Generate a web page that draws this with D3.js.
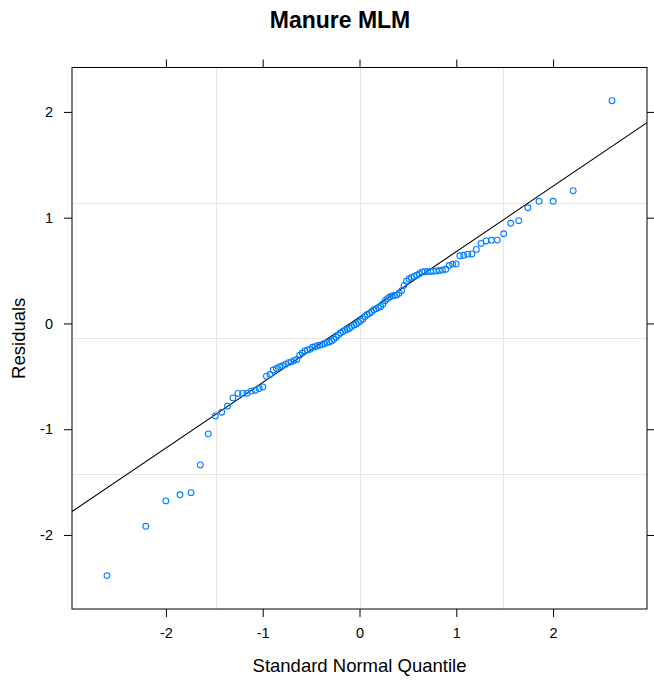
<!DOCTYPE html>
<html>
<head>
<meta charset="utf-8">
<script src="https://cdn.jsdelivr.net/npm/d3@7"></script>
<style>
  html, body { margin: 0; padding: 0; background: #fff; }
  svg { display: block; font-family: "Liberation Sans", Arial, sans-serif; }
</style>
</head>
<body>
<svg id="chart" width="654" height="683"></svg>
<script>
// ---- data ----
const titleText = "Manure MLM";
const xLabel = "Standard Normal Quantile";
const yLabel = "Residuals";
const xTicks = [-2, -1, 0, 1, 2];
const yTicks = [-2, -1, 0, 1, 2];
const xDomain = [-2.97, 2.97];
const yDomain = [-2.70, 2.42];
const gridX = [-1.485, 0, 1.485];
const gridY = [-1.42, -0.14, 1.14];
const lineIntercept = 0.06;
const lineSlope = 0.619;
// sorted residuals (n = 110)
const residuals = [
  -2.384, -1.918, -1.678, -1.620, -1.600, -1.338, -1.044, -0.874, -0.839, -0.782,
  -0.704, -0.662, -0.662, -0.660, -0.640, -0.631, -0.615, -0.600, -0.499, -0.483,
  -0.440, -0.426, -0.410, -0.400, -0.385, -0.370, -0.363, -0.350, -0.340, -0.300,
  -0.280, -0.260, -0.250, -0.245, -0.225, -0.220, -0.210, -0.205, -0.200, -0.190,
  -0.180, -0.175, -0.165, -0.150, -0.130, -0.110, -0.090, -0.075, -0.065, -0.055,
  -0.045, -0.030, -0.015, -0.005, 0.010, 0.025, 0.040, 0.065, 0.085, 0.095,
  0.110, 0.130, 0.140, 0.150, 0.160, 0.185, 0.215, 0.235, 0.250, 0.260,
  0.265, 0.270, 0.285, 0.310, 0.360, 0.400, 0.420, 0.435, 0.445, 0.455,
  0.470, 0.487, 0.489, 0.490, 0.492, 0.494, 0.497, 0.500, 0.505, 0.512,
  0.548, 0.561, 0.563, 0.640, 0.645, 0.655, 0.657, 0.700, 0.757, 0.780,
  0.786, 0.788, 0.848, 0.947, 0.972, 1.094, 1.155, 1.155, 1.255, 2.106
];

// standard normal quantile (Acklam's approximation)
function qnorm(p) {
  const a = [-3.969683028665376e+01, 2.209460984245205e+02, -2.759285104469687e+02, 1.383577518672690e+02, -3.066479806614716e+01, 2.506628277459239e+00];
  const b = [-5.447609879822406e+01, 1.615858368580409e+02, -1.556989798598866e+02, 6.680131188771972e+01, -1.328068155288572e+01];
  const c = [-7.784894002430293e-03, -3.223964580411365e-01, -2.400758277161838e+00, -2.549732539343734e+00, 4.374664141464968e+00, 2.938163982698783e+00];
  const d = [7.784695709041462e-03, 3.224671290700398e-01, 2.445134137142996e+00, 3.754408661907416e+00];
  const pl = 0.02425, ph = 1 - pl;
  let q, r;
  if (p < pl) {
    q = Math.sqrt(-2 * Math.log(p));
    return (((((c[0]*q+c[1])*q+c[2])*q+c[3])*q+c[4])*q+c[5]) / ((((d[0]*q+d[1])*q+d[2])*q+d[3])*q+1);
  } else if (p <= ph) {
    q = p - 0.5; r = q * q;
    return (((((a[0]*r+a[1])*r+a[2])*r+a[3])*r+a[4])*r+a[5])*q / (((((b[0]*r+b[1])*r+b[2])*r+b[3])*r+b[4])*r+1);
  } else {
    q = Math.sqrt(-2 * Math.log(1 - p));
    return -(((((c[0]*q+c[1])*q+c[2])*q+c[3])*q+c[4])*q+c[5]) / ((((d[0]*q+d[1])*q+d[2])*q+d[3])*q+1);
  }
}
const n = residuals.length;
const points = residuals.map((v, i) => ({ q: qnorm((i + 0.5) / n), r: v }));

// ---- layout ----
const L = 72, R = 647, T = 67.5, B = 609;
const svg = d3.select("#chart");
const x = d3.scaleLinear().domain(xDomain).range([L, R]);
const y = d3.scaleLinear().domain(yDomain).range([B, T]);
const fmt = d => String(d);

svg.append("rect").attr("width", 654).attr("height", 683).attr("fill", "#fff");

// title
svg.append("text").attr("x", 340).attr("y", 28)
  .attr("text-anchor", "middle").attr("font-size", 23).attr("font-weight", "bold")
  .attr("fill", "#000").text(titleText);

// grid
const grid = svg.append("g").attr("stroke", "#e6e6e6").attr("stroke-width", 1);
grid.selectAll("line.gx").data(gridX).join("line")
  .attr("x1", d => Math.round(x(d)) + 0.5).attr("x2", d => Math.round(x(d)) + 0.5)
  .attr("y1", T).attr("y2", B);
grid.selectAll("line.gy").data(gridY).join("line")
  .attr("y1", d => Math.round(y(d)) + 0.5).attr("y2", d => Math.round(y(d)) + 0.5)
  .attr("x1", L).attr("x2", R);

// clip
svg.append("clipPath").attr("id", "clip").append("rect")
  .attr("x", L).attr("y", T).attr("width", R - L).attr("height", B - T);

// reference line
svg.append("line").attr("clip-path", "url(#clip)")
  .attr("x1", x(xDomain[0])).attr("y1", y(lineIntercept + lineSlope * xDomain[0]))
  .attr("x2", x(xDomain[1])).attr("y2", y(lineIntercept + lineSlope * xDomain[1]))
  .attr("stroke", "#000").attr("stroke-width", 1.1);

// points
svg.append("g").attr("clip-path", "url(#clip)")
  .selectAll("circle").data(points).join("circle")
  .attr("cx", d => x(d.q)).attr("cy", d => y(d.r)).attr("r", 2.9)
  .attr("fill", "none").attr("stroke", "#0080ff").attr("stroke-width", 1.1);

// axes
function styleAxis(g, showLabels) {
  g.select(".domain").remove();
  g.selectAll(".tick line").attr("stroke", "#000");
  g.selectAll(".tick text").attr("font-size", 14.5).attr("fill", "#000")
    .attr("font-family", "'Liberation Sans', Arial, sans-serif");
  if (!showLabels) g.selectAll(".tick text").remove();
}
svg.append("g").attr("transform", `translate(0,${B})`)
  .call(d3.axisBottom(x).tickValues(xTicks).tickSize(8).tickPadding(11).tickFormat(fmt))
  .call(g => styleAxis(g, true));
svg.append("g").attr("transform", `translate(0,${T})`)
  .call(d3.axisTop(x).tickValues(xTicks).tickSize(8))
  .call(g => styleAxis(g, false));
svg.append("g").attr("transform", `translate(${L},0)`)
  .call(d3.axisLeft(y).tickValues(yTicks).tickSize(8).tickPadding(11).tickFormat(fmt))
  .call(g => styleAxis(g, true));
svg.append("g").attr("transform", `translate(${R},0)`)
  .call(d3.axisRight(y).tickValues(yTicks).tickSize(8))
  .call(g => styleAxis(g, false));

// frame
svg.append("rect").attr("x", L).attr("y", T).attr("width", R - L).attr("height", B - T)
  .attr("fill", "none").attr("stroke", "#000").attr("stroke-width", 1);

// axis titles
svg.append("text").attr("x", (L + R) / 2).attr("y", 672)
  .attr("text-anchor", "middle").attr("font-size", 18.5).attr("fill", "#000").text(xLabel);
svg.append("text").attr("transform", `translate(25,${(T + B) / 2}) rotate(-90)`)
  .attr("text-anchor", "middle").attr("font-size", 18.5).attr("fill", "#000").text(yLabel);
</script>
</body>
</html>
